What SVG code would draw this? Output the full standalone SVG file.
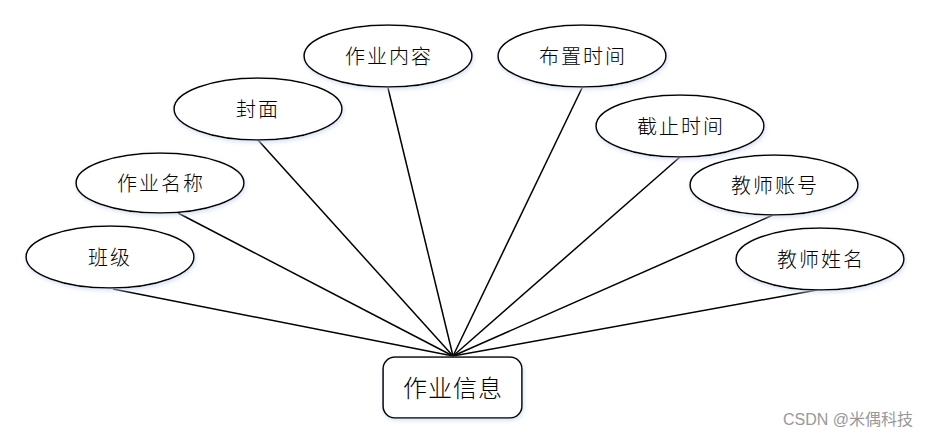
<svg xmlns="http://www.w3.org/2000/svg" width="935" height="438" viewBox="0 0 935 438">
<defs>
<filter id="glow" x="-10%" y="-20%" width="120%" height="140%">
<feDropShadow dx="1" dy="2" stdDeviation="2" flood-color="#c8d8f0" flood-opacity="0.7"/>
</filter>
<style>
.attr ellipse{fill:#fff;stroke:#000;stroke-width:1.6;filter:url(#glow)}
.attr text{font-family:"Noto Sans CJK SC","Microsoft YaHei",sans-serif;font-size:20px;font-weight:300;letter-spacing:2px;fill:#000;text-anchor:middle;dominant-baseline:central}
.ent rect{fill:#fff;stroke:#000;stroke-width:1.6;filter:url(#glow)}
.ent text{font-family:"Noto Sans CJK SC","Microsoft YaHei",sans-serif;font-size:24px;font-weight:300;letter-spacing:1px;fill:#000;text-anchor:middle;dominant-baseline:central}
#connectors line{stroke:#000;stroke-width:1.5}
.wm{font-family:"Liberation Sans","Noto Sans CJK SC",sans-serif;font-size:16px;fill:#999}
</style>
</defs>
<rect width="935" height="438" fill="#fff"/>
<g id="connectors">
<line x1="113" y1="289" x2="453" y2="356"/>
<line x1="178" y1="213" x2="453" y2="356"/>
<line x1="258" y1="140" x2="453" y2="356"/>
<line x1="388" y1="88" x2="453" y2="356"/>
<line x1="582" y1="88" x2="453" y2="356"/>
<line x1="680" y1="157" x2="453" y2="356"/>
<line x1="773" y1="215" x2="453" y2="356"/>
<line x1="817" y1="290" x2="453" y2="356"/>
</g>
<g id="n-banji" class="attr"><ellipse cx="110" cy="257" rx="84" ry="31"/><text x="110" y="256">班级</text></g>
<g id="n-mingcheng" class="attr"><ellipse cx="160" cy="183" rx="84" ry="30"/><text x="161" y="182">作业名称</text></g>
<g id="n-fengmian" class="attr"><ellipse cx="258" cy="109" rx="84" ry="31"/><text x="258" y="108">封面</text></g>
<g id="n-neirong" class="attr"><ellipse cx="388" cy="56" rx="84" ry="31"/><text x="389" y="55">作业内容</text></g>
<g id="n-buzhi" class="attr"><ellipse cx="582" cy="56" rx="84" ry="31"/><text x="583" y="55">布置时间</text></g>
<g id="n-jiezhi" class="attr"><ellipse cx="680" cy="126" rx="84" ry="31"/><text x="681" y="125">截止时间</text></g>
<g id="n-zhanghao" class="attr"><ellipse cx="774" cy="185" rx="84" ry="30"/><text x="775" y="184">教师账号</text></g>
<g id="n-xingming" class="attr"><ellipse cx="820" cy="259" rx="84" ry="31"/><text x="821" y="258">教师姓名</text></g>
<g id="n-zuoye" class="ent"><rect x="383" y="357" width="139" height="61" rx="12"/><text x="453" y="386">作业信息</text></g>
<text class="wm" x="783" y="425">CSDN @米偶科技</text>
</svg>
